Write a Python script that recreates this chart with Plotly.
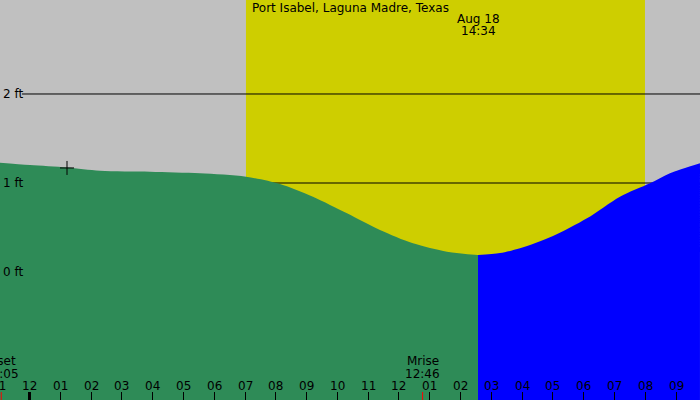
import plotly.graph_objs as go

# tide curve (hours from midnight, feet)
tide_hours = [-0.958, 0.016, 1.218, 2.290, 3.914, 5.538, 7.032, 8.136, 9.207, 10.312,
              11.383, 12.455, 13.559, 14.567, 15.281, 15.930, 17.002, 18.106, 19.178,
              20.152, 20.802, 21.776]
tide_ft = [1.228, 1.202, 1.174, 1.138, 1.127, 1.109, 1.071, 0.989, 0.846, 0.659,
           0.472, 0.322, 0.228, 0.191, 0.213, 0.266, 0.404, 0.603, 0.846,
           0.996, 1.109, 1.221]

now_hour = 14.567  # 14:34
now_date = "Aug 18"
now_text = "14:34"

sunrise = 7.03
sunset = 19.99

tick_hours = list(range(-1, 22))
tick_labels = ["11", "12", "01", "02", "03", "04", "05", "06", "07", "08", "09", "10",
               "11", "12", "01", "02", "03", "04", "05", "06", "07", "08", "09"]

ft_levels = [0, 1, 2]
ft_labels = ["0 ft", "1 ft", "2 ft"]

moon_hours = [-0.917, 12.767]
moon_names = ["Mset", "Mrise"]
moon_times = ["11:05", "12:46"]

peak_hour = [1.218]
peak_ft = [1.169]

title = "Port Isabel, Laguna Madre, Texas"

X_RANGE = [-0.958, 21.777]
Y_RANGE = [-1.438, 3.056]
FONT = "DejaVu Sans"


def to_paper(h):
    # annotations in data coords vanish when off the axis, so place them in paper coords
    return (h - X_RANGE[0]) / (X_RANGE[1] - X_RANGE[0])


fig = go.Figure()

past = [(h, f) for h, f in zip(tide_hours, tide_ft) if h <= now_hour]
future = [(h, f) for h, f in zip(tide_hours, tide_ft) if h >= now_hour]

for part, color in [(past, "#2e8b57"), (future, "#0000ff")]:
    xs = [p[0] for p in part]
    ys = [p[1] for p in part]
    # invisible floor so the fill reaches the bottom edge
    fig.add_trace(go.Scatter(x=[xs[0], xs[-1]], y=[Y_RANGE[0] - 0.2] * 2, mode="lines",
                             line=dict(width=0), hoverinfo="skip"))
    fig.add_trace(go.Scatter(x=xs, y=ys, mode="lines",
                             line=dict(width=0, shape="spline", smoothing=0.8),
                             fill="tonexty", fillcolor=color, hoverinfo="skip"))

fig.add_trace(go.Scatter(x=peak_hour, y=peak_ft, mode="markers",
                         marker=dict(symbol="cross-thin", size=10,
                                     line=dict(color="black", width=1))))

shapes = [dict(type="rect", xref="x", yref="paper", x0=sunrise, x1=sunset, y0=0, y1=1,
               fillcolor="rgb(206,206,0)", line=dict(width=0), layer="below")]
for lvl in [1, 2]:
    shapes.append(dict(type="line", xref="x", yref="y", x0=-0.244, x1=X_RANGE[1], y0=lvl, y1=lvl,
                       line=dict(color="black", width=1), layer="below"))
# midnight tick is drawn heavier
shapes.append(dict(type="line", xref="x", yref="paper", x0=0, x1=0, y0=0, y1=0.02,
                   line=dict(color="black", width=3)))
for mh in moon_hours:
    shapes.append(dict(type="line", xref="x", yref="paper", x0=mh, x1=mh, y0=0, y1=0.02,
                       line=dict(color="red", width=1)))

annotations = []
for h, lab in zip(tick_hours, tick_labels):
    annotations.append(dict(x=to_paper(h), y=14.5 / 400, xref="paper", yref="paper", text=lab,
                            showarrow=False, xanchor="center", yanchor="middle"))
for lvl, lab in zip(ft_levels, ft_labels):
    annotations.append(dict(x=1 / 700, y=lvl, xref="paper", yref="y", text=lab, showarrow=False,
                            xanchor="left", yanchor="middle"))
for mh, name, t in zip(moon_hours, moon_names, moon_times):
    annotations.append(dict(x=to_paper(mh), y=38.8 / 400, xref="paper", yref="paper", text=name,
                            showarrow=False, xanchor="center", yanchor="middle"))
    annotations.append(dict(x=to_paper(mh), y=26.5 / 400, xref="paper", yref="paper", text=t,
                            showarrow=False, xanchor="center", yanchor="middle"))
annotations.append(dict(x=0.5, y=1 - 7.5 / 400, xref="paper", yref="paper", text=title,
                        showarrow=False, xanchor="center", yanchor="middle"))
annotations.append(dict(x=to_paper(now_hour), y=1 - 19.5 / 400, xref="paper", yref="paper",
                        text=now_date, showarrow=False, xanchor="center", yanchor="middle"))
annotations.append(dict(x=to_paper(now_hour), y=1 - 31.5 / 400, xref="paper", yref="paper",
                        text=now_text, showarrow=False, xanchor="center", yanchor="middle"))

fig.update_layout(
    width=700, height=400, margin=dict(l=0, r=0, t=0, b=0),
    showlegend=False, paper_bgcolor="#c0c0c0", plot_bgcolor="#c0c0c0",
    font=dict(family=FONT, size=12, color="black"),
    shapes=shapes, annotations=annotations,
    xaxis=dict(range=X_RANGE, showgrid=False, zeroline=False, showline=False,
               tickmode="array", tickvals=tick_hours, showticklabels=False,
               ticks="inside", ticklen=8, tickcolor="black", tickwidth=1),
    yaxis=dict(range=Y_RANGE, showgrid=False, zeroline=False, showline=False,
               showticklabels=False, ticks=""),
)

fig.write_html("out.html", config={"displayModeBar": False},
               post_script="document.body.style.margin='0';")
